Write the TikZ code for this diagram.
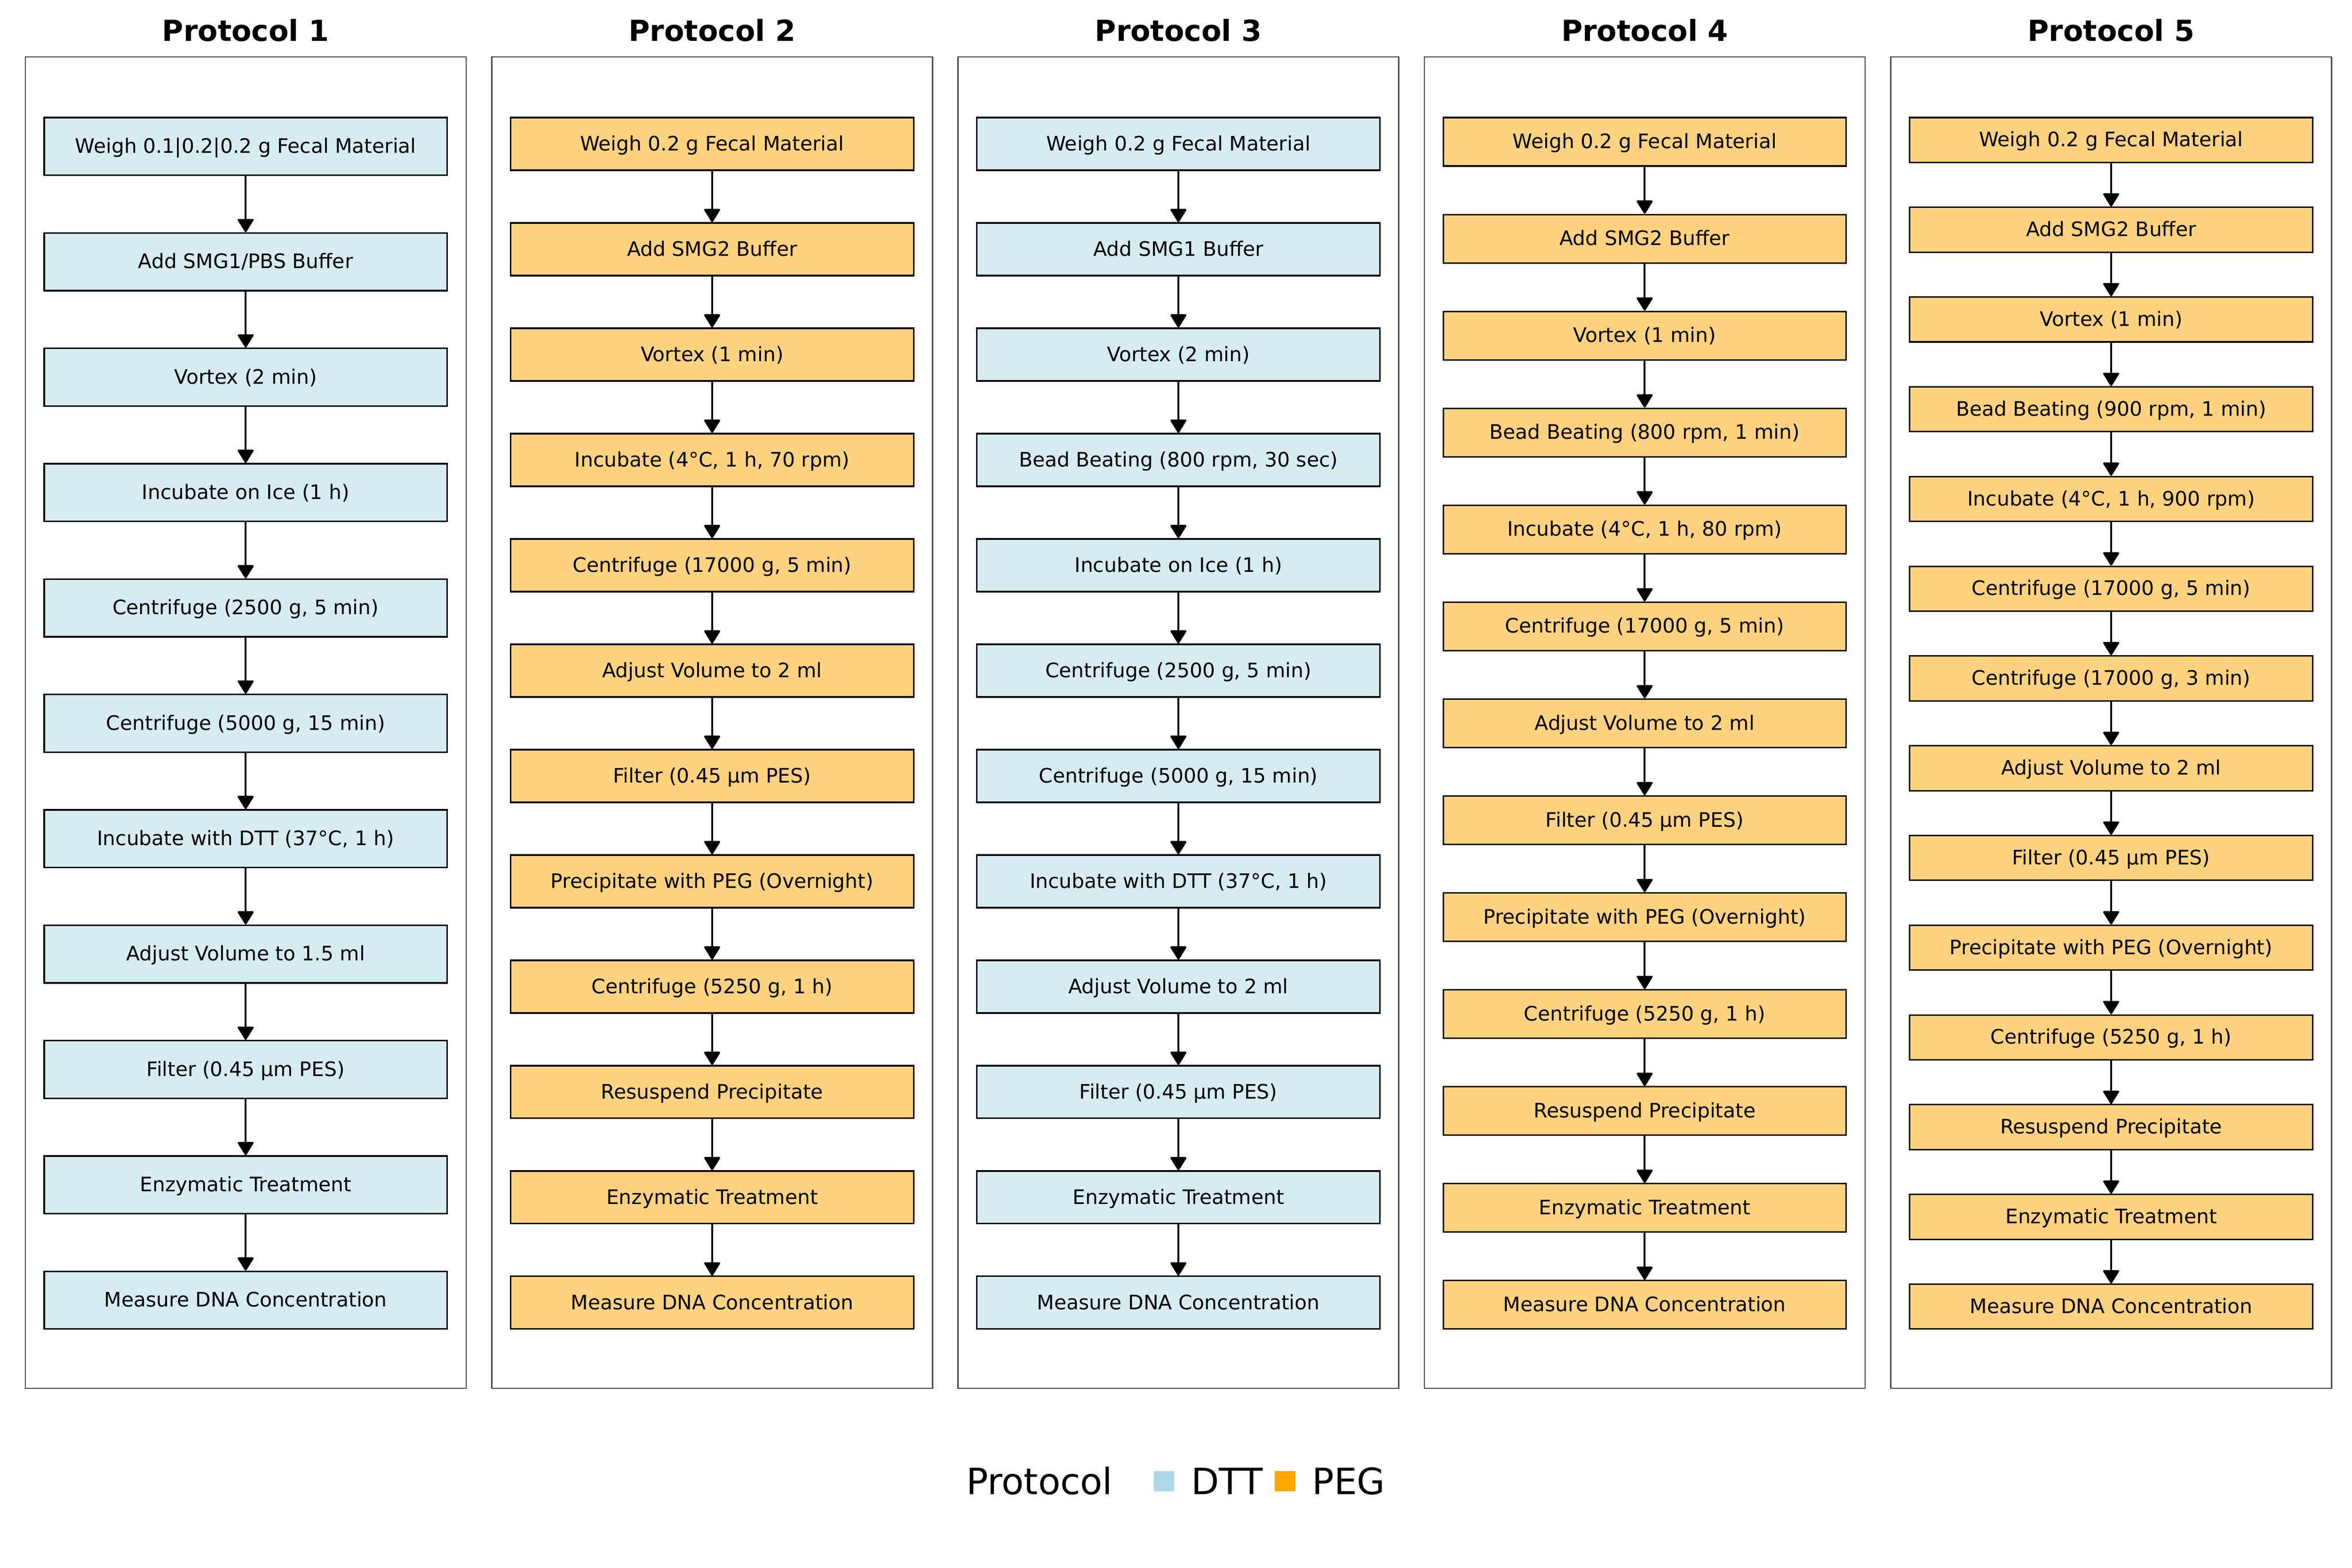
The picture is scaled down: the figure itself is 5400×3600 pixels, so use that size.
\documentclass[tikz,border=0pt]{standalone}
\usepackage{fontspec}
\setmainfont{DejaVu Sans}
\usetikzlibrary{arrows.meta}
\definecolor{dttfill}{HTML}{D6EBF2}
\definecolor{pegfill}{HTML}{FFD280}
\definecolor{dttlegend}{HTML}{ADD8E6}
\definecolor{peglegend}{HTML}{FFA500}
\definecolor{framegray}{HTML}{444444}
\newcommand\drawprotocol[5]{%
  \pgfmathsetmacro\pcx{#2+506}%
  \pgfmathsetmacro\pitch{2782/(#3-0.5)}%
  \pgfmathsetmacro\bh{\pitch*0.12}%
  \pgfmathtruncatemacro\nlast{#3-1}%
  \node[panel] (frame#1) at (\pcx,1659.5) {};
  \node[ptitle] (title#1) at (\pcx,95) {Protocol #1};
  \foreach \steptext [count=\i from 0] in {#5} {
    \pgfmathsetmacro\cy{270+\i*\pitch+\pitch/4}
    \node[#4, minimum height=\bh pt] (p#1s\i) at (\pcx,\cy) {\steptext};
  }
  \foreach \i in {1,...,\nlast} {
    \pgfmathtruncatemacro\prev{\i-1}
    \draw[arr] (p#1s\prev.south) -- (p#1s\i.north);
  }
}
\begin{document}
\begin{tikzpicture}[x=0.24pt,y=-0.24pt,
  stepbox/.style={draw=black,line width=0.8pt,minimum width=222pt,inner sep=0pt,
    font=\fontsize{11}{13}\selectfont,text height=0.73em,text depth=0pt},
  dtt/.style={stepbox,fill=dttfill},
  peg/.style={stepbox,fill=pegfill},
  arr/.style={-{Triangle[width=9.4pt,length=7.8pt,round]},line width=1pt},
  panel/.style={draw=framegray,line width=0.6pt,minimum width=242.88pt,
    minimum height=733.68pt,inner sep=0pt},
  ptitle/.style={font=\fontsize{16}{19}\selectfont\bfseries,anchor=base},
  legtext/.style={font=\fontsize{20}{24}\selectfont,anchor=base west},
  legpatch/.style={draw=none,minimum width=11.28pt,minimum height=11.28pt,inner sep=0pt}]
\useasboundingbox (0,0) rectangle (5400,3600);

\drawprotocol{1}{58}{11}{dtt}{{Weigh 0.1|0.2|0.2 g Fecal Material},{Add SMG1/PBS Buffer},{Vortex (2 min)},{Incubate on Ice (1 h)},{Centrifuge (2500 g, 5 min)},{Centrifuge (5000 g, 15 min)},{Incubate with DTT (37°C, 1 h)},{Adjust Volume to 1.5 ml},{Filter (0.45 µm PES)},{Enzymatic Treatment},{Measure DNA Concentration}}

\drawprotocol{2}{1129}{12}{peg}{{Weigh 0.2 g Fecal Material},{Add SMG2 Buffer},{Vortex (1 min)},{Incubate (4°C, 1 h, 70 rpm)},{Centrifuge (17000 g, 5 min)},{Adjust Volume to 2 ml},{Filter (0.45 µm PES)},{Precipitate with PEG (Overnight)},{Centrifuge (5250 g, 1 h)},{Resuspend Precipitate},{Enzymatic Treatment},{Measure DNA Concentration}}

\drawprotocol{3}{2199.5}{12}{dtt}{{Weigh 0.2 g Fecal Material},{Add SMG1 Buffer},{Vortex (2 min)},{Bead Beating (800 rpm, 30 sec)},{Incubate on Ice (1 h)},{Centrifuge (2500 g, 5 min)},{Centrifuge (5000 g, 15 min)},{Incubate with DTT (37°C, 1 h)},{Adjust Volume to 2 ml},{Filter (0.45 µm PES)},{Enzymatic Treatment},{Measure DNA Concentration}}

\drawprotocol{4}{3270}{13}{peg}{{Weigh 0.2 g Fecal Material},{Add SMG2 Buffer},{Vortex (1 min)},{Bead Beating (800 rpm, 1 min)},{Incubate (4°C, 1 h, 80 rpm)},{Centrifuge (17000 g, 5 min)},{Adjust Volume to 2 ml},{Filter (0.45 µm PES)},{Precipitate with PEG (Overnight)},{Centrifuge (5250 g, 1 h)},{Resuspend Precipitate},{Enzymatic Treatment},{Measure DNA Concentration}}

\drawprotocol{5}{4341}{14}{peg}{{Weigh 0.2 g Fecal Material},{Add SMG2 Buffer},{Vortex (1 min)},{Bead Beating (900 rpm, 1 min)},{Incubate (4°C, 1 h, 900 rpm)},{Centrifuge (17000 g, 5 min)},{Centrifuge (17000 g, 3 min)},{Adjust Volume to 2 ml},{Filter (0.45 µm PES)},{Precipitate with PEG (Overnight)},{Centrifuge (5250 g, 1 h)},{Resuspend Precipitate},{Enzymatic Treatment},{Measure DNA Concentration}}

% legend
\node[legtext] (legtitle) at (2204,3432) {Protocol};
\node[legpatch,fill=dttlegend] (legdtt) at (2672.5,3401.5) {};
\node[legtext] (legdttlabel) at (2720,3432) {DTT};
\node[legpatch,fill=peglegend] (legpeg) at (2950.5,3401.5) {};
\node[legtext] (legpeglabel) at (2998,3432) {PEG};
\end{tikzpicture}
\end{document}
